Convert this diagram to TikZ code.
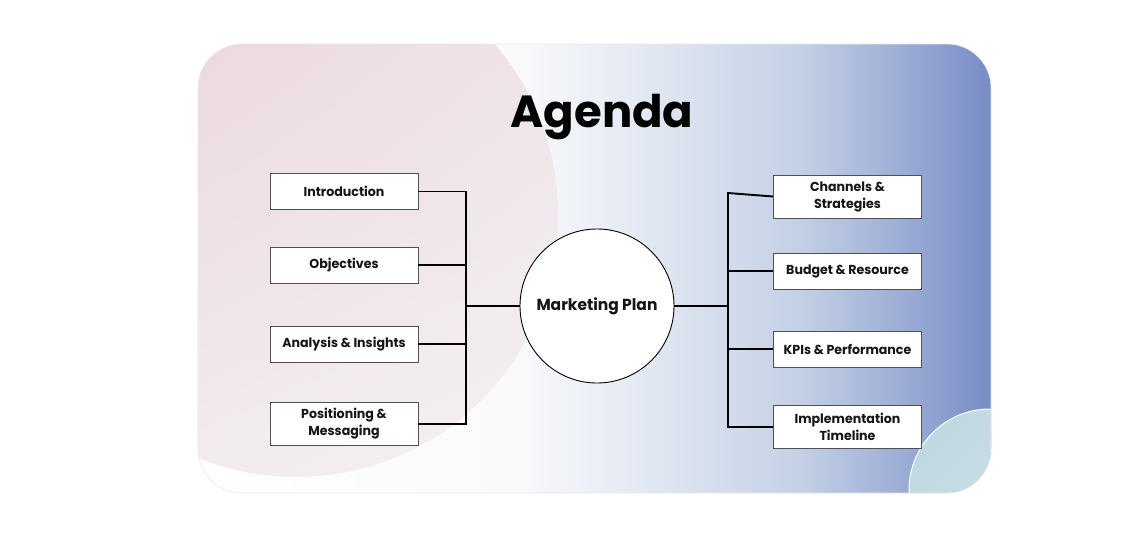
\documentclass[tikz,border=0pt]{standalone}
\usepackage{fontspec}
\usetikzlibrary{shadings}
\setmainfont{Poppins}
\newfontfamily\boxfont{Poppins}[FakeStretch=0.97]
\definecolor{cA}{RGB}{250,250,252}
\definecolor{cB}{RGB}{226,232,242}
\definecolor{cC}{RGB}{196,208,230}
\definecolor{cD}{RGB}{156,174,213}
\definecolor{cE}{RGB}{120,140,198}
\definecolor{pkA}{RGB}{232,208,214}
\definecolor{pkM}{RGB}{238,225,229}
\definecolor{pkL}{RGB}{241,233,237}
\definecolor{pkB}{RGB}{244,241,245}
\definecolor{tlA}{RGB}{188,213,223}
\definecolor{tlM}{RGB}{200,222,230}
\definecolor{tlB}{RGB}{215,231,237}
\definecolor{boxline}{RGB}{80,80,84}
\definecolor{txt}{RGB}{22,22,24}
\definecolor{cardedge}{RGB}{234,234,238}
\pgfdeclarehorizontalshading{cardshade}{100bp}{color(0bp)=(white); color(25bp)=(white); color(45bp)=(cA); color(53.5bp)=(cB); color(63bp)=(cC); color(69.3bp)=(cD); color(75bp)=(cE); color(100bp)=(cE)}
\tikzset{
  topic/.style={draw=boxline, line width=0.9pt, fill=white, minimum width=148pt, minimum height=36pt, align=center, inner sep=0pt, font=\boxfont\bfseries\fontsize{13}{17}\selectfont, text=txt},
  topic2/.style={topic, minimum height=43pt},
  conn/.style={line width=1.9pt, draw=black},
}
\begin{document}
\begin{tikzpicture}[x=1pt,y=-1pt]
\useasboundingbox (0,0) rectangle (1125,538);
\fill[white] (0,0) rectangle (1125,538);
% card
\begin{scope}
\clip[rounded corners=44pt] (198,44) rectangle (991,493);
\shade[shading=cardshade] (198,44) rectangle (991,493);
\shade[upper left=pkA, upper right=pkM, lower left=pkL, lower right=pkB] (296,215) circle (262);
\shade[draw=white, line width=1pt, upper left=tlA, upper right=tlM, lower left=tlM, lower right=tlB] (990,490) circle (81);
\end{scope}
\draw[rounded corners=44pt, draw=cardedge, line width=0.6pt] (198,44) rectangle (991,493);
% title
\node[anchor=base, font=\bfseries\fontsize{45}{50}\selectfont, text=black] (title) at (602,127) {Agenda};
% center
\node[circle, draw=black, line width=0.9pt, fill=white, minimum size=154pt, inner sep=0pt, font=\boxfont\bfseries\fontsize{16}{19}\selectfont, text=txt] (mp) at (597,306) {Marketing Plan};
% left
\node[topic] (l1) at (344,191.5) {Introduction};
\node[topic] (l2) at (344,265) {Objectives};
\node[topic] (l3) at (344,344) {Analysis \& Insights};
\node[topic2] (l4) at (344,424) {Positioning \&\\Messaging};
% right
\node[topic2] (r1) at (847.5,196.5) {Channels \&\\Strategies};
\node[topic] (r2) at (847.5,271) {Budget \& Resource};
\node[topic] (r3) at (847.5,349) {KPIs \& Performance};
\node[topic2] (r4) at (847.5,427) {Implementation\\Timeline};
% connectors
\coordinate (lt) at (466,306);
\coordinate (rt) at (728,306);
\draw[conn] (l1.east) -- (lt |- l1.east) -- (lt |- l4.east) -- (l4.east);
\draw[conn] (l2.east) -- (lt |- l2.east);
\draw[conn] (l3.east) -- (lt |- l3.east);
\draw[conn] (lt) -- (mp.west);
\coordinate (rtop) at (728,193);
\draw[conn] (r1.west) -- (rtop) -- (rt |- r4.west) -- (r4.west);
\draw[conn] (r2.west) -- (rt |- r2.west);
\draw[conn] (r3.west) -- (rt |- r3.west);
\draw[conn] (mp.east) -- (rt);
\end{tikzpicture}
\end{document}
